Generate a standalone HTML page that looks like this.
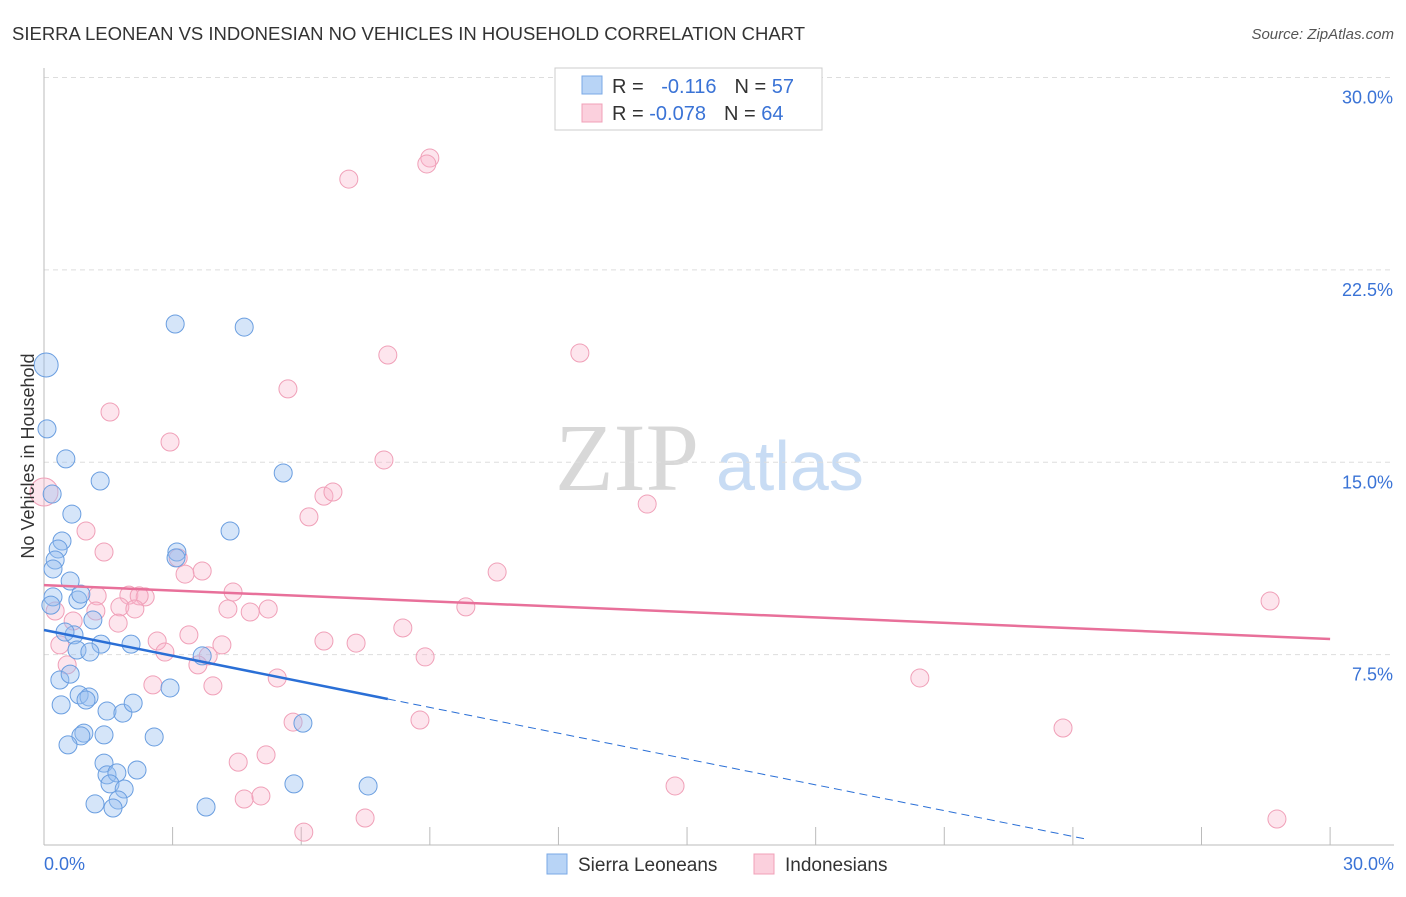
<!DOCTYPE html>
<html><head><meta charset="utf-8"><style>
body{margin:0;background:#fff;font-family:"Liberation Sans",sans-serif;}
svg text{font-family:"Liberation Sans",sans-serif;}
</style></head><body>
<svg id="c" width="1406" height="892">
<text x="12" y="40" font-size="18" fill="#333" textLength="793" lengthAdjust="spacingAndGlyphs">SIERRA LEONEAN VS INDONESIAN NO VEHICLES IN HOUSEHOLD CORRELATION CHART</text>
<text x="1394" y="39" font-size="15" fill="#555" text-anchor="end" font-style="italic">Source: ZipAtlas.com</text>
<text x="555" y="490" font-size="96" fill="#d8d8d8" style="font-family:'Liberation Serif',serif">ZIP</text>
<text x="716" y="490" font-size="70" fill="#c8dcf4">atlas</text>
<g id="grid"></g>
<g id="marks"></g>
<text x="34" y="456" font-size="18" fill="#333" transform="rotate(-90 34 456)" text-anchor="middle">No Vehicles in Household</text>
<g>
<rect x="555" y="68" width="267" height="62" fill="#fff" stroke="#ccc"/>
<rect x="582" y="76" width="20" height="18" fill="#b8d4f6" stroke="#7aa8e6"/>
<rect x="582" y="104" width="20" height="18" fill="#fbd0dd" stroke="#f0a0b8"/>
<text x="612" y="93" font-size="20" fill="#333">R = <tspan fill="#3a73d6" dx="12">-0.116</tspan><tspan dx="18" fill="#333">N = </tspan><tspan fill="#3a73d6">57</tspan></text>
<text x="612" y="120" font-size="20" fill="#333">R = <tspan fill="#3a73d6">-0.078</tspan><tspan dx="18" fill="#333">N = </tspan><tspan fill="#3a73d6">64</tspan></text>
</g>
<g>
<rect x="547" y="854" width="20" height="20" fill="#b8d4f6" stroke="#7aa8e6"/>
<text x="578" y="871" font-size="19" fill="#333">Sierra Leoneans</text>
<rect x="754" y="854" width="20" height="20" fill="#fbd0dd" stroke="#f0a0b8"/>
<text x="785" y="871" font-size="19" fill="#333">Indonesians</text>
</g>
</svg>
<script>
const yTicks=[7.5,15,22.5,30];
const yTickLabels=["7.5%","15.0%","22.5%","30.0%"];
const xTickLabels=["0.0%","30.0%"];
const blueX=[3.06,4.67,0.05,0.07,0.51,1.31,0.19,5.58,0.65,4.34,0.42,3.10,0.33,0.26,0.21,0.61,0.79,0.21,0.86,0.16,1.14,0.70,0.49,3.08,1.33,2.03,0.77,1.07,3.69,0.37,0.61,2.94,0.82,1.05,0.98,1.47,1.84,2.08,0.93,0.86,1.40,2.57,0.40,0.56,1.40,1.47,1.70,2.17,1.54,1.87,1.73,1.19,1.61,3.78,5.83,7.56,6.04];
const blueY=[20.39,20.27,18.79,16.30,15.13,14.27,13.76,14.58,12.98,12.32,11.93,11.50,11.62,11.19,10.84,10.37,9.63,9.75,9.86,9.43,8.85,8.27,8.38,11.27,7.91,7.91,7.68,7.60,7.45,6.51,6.74,6.20,5.93,5.85,5.73,5.30,5.22,5.61,4.44,4.33,4.37,4.29,5.54,3.98,3.27,2.81,2.89,3.00,2.46,2.26,1.83,1.68,1.52,1.56,2.46,2.38,4.83];
const pinkX=[9.00,8.93,7.11,8.02,12.50,5.69,1.54,2.94,7.93,0,6.53,6.74,6.18,14.07,0.98,1.40,3.13,3.29,3.69,10.57,4.41,1.24,1.98,2.36,2.22,1.77,2.12,1.21,0.26,0.68,4.29,4.81,5.23,9.84,1.73,28.60,8.37,3.38,2.64,6.53,7.28,4.15,2.82,3.83,8.89,3.59,0.54,5.44,20.43,2.54,3.94,0.37,5.81,8.77,23.77,5.18,4.53,4.67,5.06,6.06,7.49,14.72,28.76];
const pinkY=[26.86,26.63,26.04,19.18,19.26,17.86,16.96,15.79,15.09,13.84,13.68,13.84,12.87,13.37,12.32,11.50,11.27,10.64,10.76,10.72,9.94,9.79,9.82,9.75,9.79,9.36,9.28,9.20,9.20,8.81,9.28,9.16,9.28,9.36,8.73,9.59,8.54,8.27,8.03,8.03,7.95,7.88,7.60,7.45,7.41,7.10,7.10,6.59,6.59,6.32,6.28,7.88,4.87,4.95,4.64,3.59,3.31,1.87,1.99,0.58,1.13,2.38,1.09];
const blueTrend=[8.46,-1.6];const blueSolidEnd=8.02;
const pinkTrend=[10.21,8.11];
const NS="http://www.w3.org/2000/svg";
const X=v=>44+v*42.87, Y=v=>847-v*25.65;
function mk(t,a,p){const e=document.createElementNS(NS,t);for(const k in a)e.setAttribute(k,a[k]);p.appendChild(e);return e;}
const g=document.getElementById('grid'),m=document.getElementById('marks');
yTicks.forEach((t,i)=>{
 const l=mk('line',{x1:44,x2:1394,y1:Y(t),y2:Y(t),stroke:'#ddd','stroke-dasharray':'5,4'},g);
 
 
 const tx=mk('text',{x:1393,y:Y(t)+26,'font-size':18,fill:'#3a73d6','text-anchor':'end'},g);tx.textContent=yTickLabels[i];
 
 
});
mk('line',{x1:44,x2:44,y1:68,y2:845,stroke:'#bbb'},g);
mk('line',{x1:44,x2:1394,y1:845,y2:845,stroke:'#bbb'},g);
for(let i=0;i<=10;i++){const xx=X(i*3);const t=mk('line',{x1:xx,x2:xx,y1:827,y2:845,stroke:'#bbb'},g);
 
 }
[[0,'start',44],[30,'end',1394]].forEach((d,i)=>{const t=mk('text',{x:d[2],y:870,'font-size':18,fill:'#3a73d6','text-anchor':d[1]},g);t.textContent=xTickLabels[i];
 
 });
function pts(xs,ys,fill,stroke,name,bigIdx,bigR){xs.forEach((x,i)=>{const r=(i===bigIdx)?bigR:9;
 const c=mk('circle',{cx:X(x),cy:Y(ys[i]),r:r,fill:fill,stroke:stroke,'stroke-width':1},m);
 
 });}
pts(pinkX,pinkY,'rgba(248,180,204,0.35)','#f0a0b8','indonesian-point',9,14);
pts(blueX,blueY,'rgba(150,190,240,0.4)','#6a9ee0','sierra-leonean-point',2,12);
const bs=(v)=>blueTrend[0]+(blueTrend[1]-blueTrend[0])*v/30;
const l1=mk('line',{x1:X(0),y1:Y(bs(0)),x2:X(blueSolidEnd),y2:Y(bs(blueSolidEnd)),stroke:'#2a6fd6','stroke-width':2.5},m);


const l2=mk('line',{x1:X(blueSolidEnd),y1:Y(bs(blueSolidEnd)),x2:X(24.35),y2:Y(bs(24.35)),stroke:'#2a6fd6','stroke-width':1,'stroke-dasharray':'8,5'},m);


const l3=mk('line',{x1:X(0),y1:Y(pinkTrend[0]),x2:X(30),y2:Y(pinkTrend[1]),stroke:'#e8709a','stroke-width':2.5},m);


</script>
</body></html>
